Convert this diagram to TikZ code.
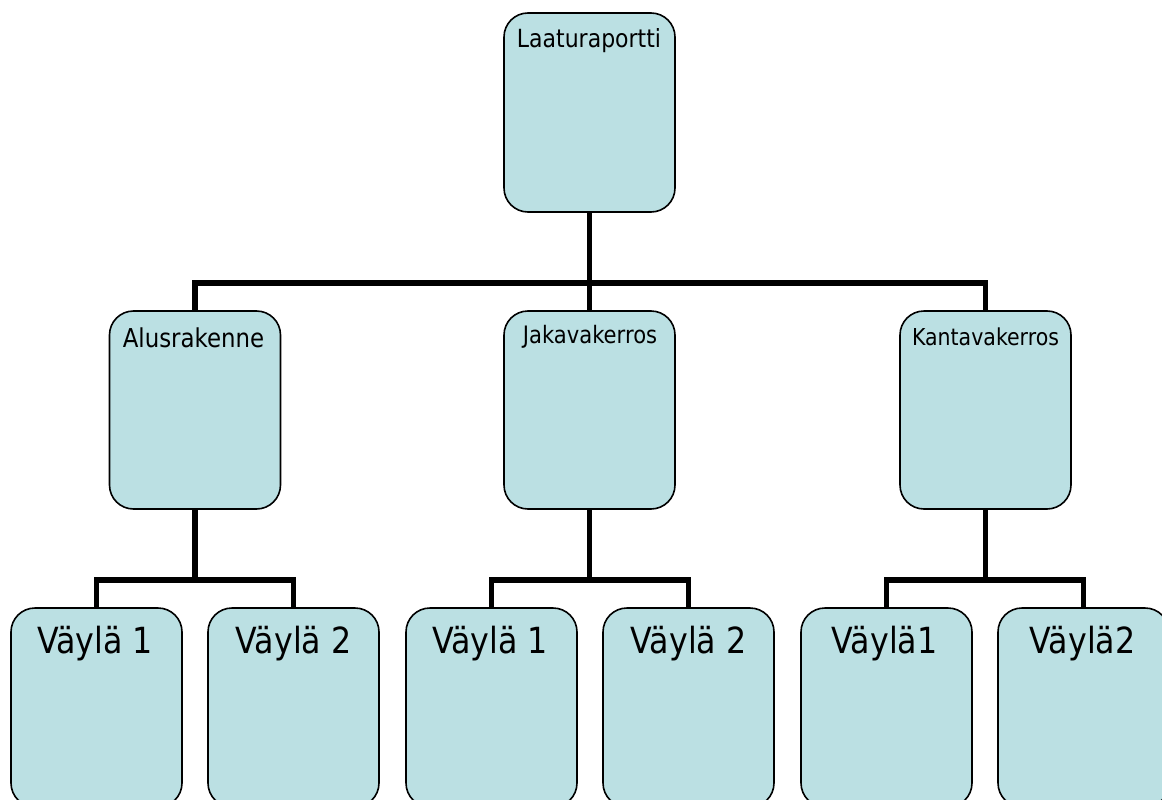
\documentclass[tikz,border=0pt]{standalone}
\usepackage{fontspec}
\usetikzlibrary{backgrounds}
\newfontfamily\tah[FakeStretch=0.88]{DejaVu Sans}
\definecolor{boxfill}{RGB}{187,224,227}
\tikzset{
  orgbox/.style={draw=black, line width=1.6pt, fill=boxfill, rounded corners=24pt,
    rectangle, inner sep=0pt, minimum width=171pt, minimum height=199pt},
  conn/.style={draw=black, line width=5.8pt, line join=miter},
  lbl/.style={anchor=base, inner sep=0pt, text=black, font=\tah},
}
\newcommand{\fs}[1]{\fontsize{#1pt}{#1pt}\selectfont}
\begin{document}
\begin{tikzpicture}[x=1pt,y=-1pt]
\path[clip] (0,0) rectangle (1162,800);
% bus coordinates
\coordinate (bus0) at (589.5,283);
\coordinate (bus1) at (195,580);
\coordinate (bus2) at (589.5,580);
\coordinate (bus3) at (985.5,580);
% boxes
\path (589.5,112.5) node[orgbox] (top) {};
\path (195,410) node[orgbox, minimum height=198pt] (alus) {};
\path (589.5,410) node[orgbox, minimum height=198pt] (jak) {};
\path (985.5,410) node[orgbox, minimum height=198pt] (kanta) {};
\path (96.5,707.5) node[orgbox] (b1) {};
\path (293.5,707.5) node[orgbox] (b2) {};
\path (491.5,707.5) node[orgbox] (b3) {};
\path (688.5,707.5) node[orgbox] (b4) {};
\path (886.5,707.5) node[orgbox] (b5) {};
\path (1083.5,707.5) node[orgbox] (b6) {};
% connectors
\begin{scope}[on background layer]
\fill[white] (0,0) rectangle (1162,800);
\draw[conn] (top.south) -- (jak.north);
\draw[conn] (alus.north) |- (bus0) -| (kanta.north);
\draw[conn] (alus.south) -- (bus1);
\draw[conn] (b1.north) |- (bus1) -| (b2.north);
\draw[conn] (jak.south) -- (bus2);
\draw[conn] (b3.north) |- (bus2) -| (b4.north);
\draw[conn] (kanta.south) -- (bus3);
\draw[conn] (b5.north) |- (bus3) -| (b6.north);
\end{scope}
% labels
\node[lbl] (tTop) at (589,48) {\fs{25}Laaturaportti};
\node[lbl] (tAlus) at (193.5,347) {\fs{26}Alusrakenne};
\node[lbl] (tJak) at (590,343) {\fs{24}Jakavakerros};
\node[lbl] (tKanta) at (985.5,345) {\fs{23.3}Kantavakerros};
\node[lbl] (t1) at (95,653) {\fs{36}Väylä 1};
\node[lbl] (t2) at (293.5,653) {\fs{36}Väylä 2};
\node[lbl] (t3) at (490,653) {\fs{36}Väylä 1};
\node[lbl] (t4) at (688.5,653) {\fs{36}Väylä 2};
\node[lbl] (t5) at (884.5,653) {\fs{36}Väylä1};
\node[lbl] (t6) at (1082.5,653) {\fs{36}Väylä2};
\end{tikzpicture}
\end{document}
